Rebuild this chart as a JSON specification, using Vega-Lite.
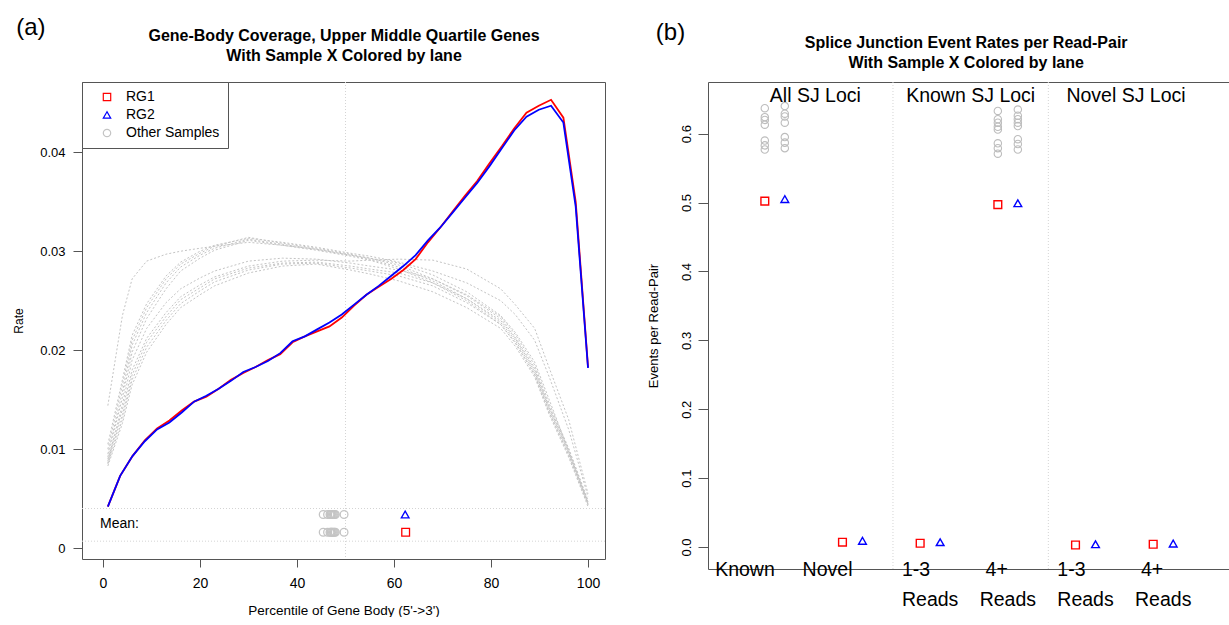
{
  "$schema": "https://vega.github.io/schema/vega-lite/v6.json",
  "padding": {"left": 12, "top": 15, "right": 0, "bottom": 0},
  "spacing": 40,
  "config": {
    "font": "Liberation Sans",
    "view": {"stroke": "#555"},
    "axis": {"grid": false, "domain": false, "labelColor": "#000", "titleColor": "#000", "tickColor": "#555", "titleFontWeight": "normal", "labelFont": "Liberation Sans", "titleFont": "Liberation Sans"}
  },
  "datasets": {
    "cov": [
      {"s":"F","g":"Other Samples","x":1,"y":0.0144},{"s":"F","g":"Other Samples","x":4,"y":0.0235},{"s":"F","g":"Other Samples","x":6,"y":0.0272},{"s":"F","g":"Other Samples","x":9,"y":0.0290},{"s":"F","g":"Other Samples","x":13,"y":0.0297},{"s":"F","g":"Other Samples","x":16,"y":0.0300},{"s":"F","g":"Other Samples","x":20,"y":0.0303},{"s":"F","g":"Other Samples","x":23,"y":0.0305},{"s":"F","g":"Other Samples","x":30,"y":0.0309},{"s":"F","g":"Other Samples","x":37,"y":0.0306},{"s":"F","g":"Other Samples","x":44,"y":0.0302},{"s":"F","g":"Other Samples","x":51,"y":0.0296},{"s":"F","g":"Other Samples","x":55,"y":0.0293},{"s":"F","g":"Other Samples","x":61,"y":0.0288},{"s":"F","g":"Other Samples","x":68,"y":0.0276},{"s":"F","g":"Other Samples","x":75,"y":0.0259},{"s":"F","g":"Other Samples","x":82,"y":0.0235},{"s":"F","g":"Other Samples","x":85,"y":0.0218},{"s":"F","g":"Other Samples","x":89,"y":0.0188},{"s":"F","g":"Other Samples","x":92,"y":0.0150},{"s":"F","g":"Other Samples","x":96,"y":0.0098},{"s":"F","g":"Other Samples","x":100,"y":0.0046},
      {"s":"A1","g":"Other Samples","x":1,"y":0.0105},{"s":"A1","g":"Other Samples","x":4,"y":0.0170},{"s":"A1","g":"Other Samples","x":6,"y":0.0215},{"s":"A1","g":"Other Samples","x":9,"y":0.0247},{"s":"A1","g":"Other Samples","x":13,"y":0.0275},{"s":"A1","g":"Other Samples","x":16,"y":0.0289},{"s":"A1","g":"Other Samples","x":20,"y":0.0300},{"s":"A1","g":"Other Samples","x":23,"y":0.0306},{"s":"A1","g":"Other Samples","x":30,"y":0.0313},{"s":"A1","g":"Other Samples","x":37,"y":0.0309},{"s":"A1","g":"Other Samples","x":44,"y":0.0304},{"s":"A1","g":"Other Samples","x":51,"y":0.0298},{"s":"A1","g":"Other Samples","x":55,"y":0.0295},{"s":"A1","g":"Other Samples","x":61,"y":0.0289},{"s":"A1","g":"Other Samples","x":68,"y":0.0280},{"s":"A1","g":"Other Samples","x":75,"y":0.0268},{"s":"A1","g":"Other Samples","x":82,"y":0.0250},{"s":"A1","g":"Other Samples","x":85,"y":0.0236},{"s":"A1","g":"Other Samples","x":89,"y":0.0210},{"s":"A1","g":"Other Samples","x":92,"y":0.0173},{"s":"A1","g":"Other Samples","x":96,"y":0.0120},{"s":"A1","g":"Other Samples","x":100,"y":0.0052},
      {"s":"A2","g":"Other Samples","x":1,"y":0.0100},{"s":"A2","g":"Other Samples","x":4,"y":0.0165},{"s":"A2","g":"Other Samples","x":6,"y":0.0210},{"s":"A2","g":"Other Samples","x":9,"y":0.0243},{"s":"A2","g":"Other Samples","x":13,"y":0.0272},{"s":"A2","g":"Other Samples","x":16,"y":0.0287},{"s":"A2","g":"Other Samples","x":20,"y":0.0298},{"s":"A2","g":"Other Samples","x":23,"y":0.0305},{"s":"A2","g":"Other Samples","x":30,"y":0.0314},{"s":"A2","g":"Other Samples","x":37,"y":0.0308},{"s":"A2","g":"Other Samples","x":44,"y":0.0303},{"s":"A2","g":"Other Samples","x":51,"y":0.0297},{"s":"A2","g":"Other Samples","x":55,"y":0.0293},{"s":"A2","g":"Other Samples","x":61,"y":0.0286},{"s":"A2","g":"Other Samples","x":68,"y":0.0272},{"s":"A2","g":"Other Samples","x":75,"y":0.0255},{"s":"A2","g":"Other Samples","x":82,"y":0.0232},{"s":"A2","g":"Other Samples","x":85,"y":0.0213},{"s":"A2","g":"Other Samples","x":89,"y":0.0182},{"s":"A2","g":"Other Samples","x":92,"y":0.0143},{"s":"A2","g":"Other Samples","x":96,"y":0.0100},{"s":"A2","g":"Other Samples","x":100,"y":0.0047},
      {"s":"A3","g":"Other Samples","x":1,"y":0.0095},{"s":"A3","g":"Other Samples","x":4,"y":0.0158},{"s":"A3","g":"Other Samples","x":6,"y":0.0205},{"s":"A3","g":"Other Samples","x":9,"y":0.0238},{"s":"A3","g":"Other Samples","x":13,"y":0.0268},{"s":"A3","g":"Other Samples","x":16,"y":0.0284},{"s":"A3","g":"Other Samples","x":20,"y":0.0296},{"s":"A3","g":"Other Samples","x":23,"y":0.0303},{"s":"A3","g":"Other Samples","x":30,"y":0.0312},{"s":"A3","g":"Other Samples","x":37,"y":0.0307},{"s":"A3","g":"Other Samples","x":44,"y":0.0302},{"s":"A3","g":"Other Samples","x":51,"y":0.0296},{"s":"A3","g":"Other Samples","x":55,"y":0.0292},{"s":"A3","g":"Other Samples","x":61,"y":0.0284},{"s":"A3","g":"Other Samples","x":68,"y":0.0270},{"s":"A3","g":"Other Samples","x":75,"y":0.0252},{"s":"A3","g":"Other Samples","x":82,"y":0.0228},{"s":"A3","g":"Other Samples","x":85,"y":0.0210},{"s":"A3","g":"Other Samples","x":89,"y":0.0178},{"s":"A3","g":"Other Samples","x":92,"y":0.0140},{"s":"A3","g":"Other Samples","x":96,"y":0.0097},{"s":"A3","g":"Other Samples","x":100,"y":0.0045},
      {"s":"A4","g":"Other Samples","x":1,"y":0.0092},{"s":"A4","g":"Other Samples","x":4,"y":0.0152},{"s":"A4","g":"Other Samples","x":6,"y":0.0198},{"s":"A4","g":"Other Samples","x":9,"y":0.0232},{"s":"A4","g":"Other Samples","x":13,"y":0.0262},{"s":"A4","g":"Other Samples","x":16,"y":0.0280},{"s":"A4","g":"Other Samples","x":20,"y":0.0293},{"s":"A4","g":"Other Samples","x":23,"y":0.0301},{"s":"A4","g":"Other Samples","x":30,"y":0.0311},{"s":"A4","g":"Other Samples","x":37,"y":0.0306},{"s":"A4","g":"Other Samples","x":44,"y":0.0301},{"s":"A4","g":"Other Samples","x":51,"y":0.0295},{"s":"A4","g":"Other Samples","x":55,"y":0.0291},{"s":"A4","g":"Other Samples","x":61,"y":0.0282},{"s":"A4","g":"Other Samples","x":68,"y":0.0268},{"s":"A4","g":"Other Samples","x":75,"y":0.0250},{"s":"A4","g":"Other Samples","x":82,"y":0.0226},{"s":"A4","g":"Other Samples","x":85,"y":0.0208},{"s":"A4","g":"Other Samples","x":89,"y":0.0176},{"s":"A4","g":"Other Samples","x":92,"y":0.0138},{"s":"A4","g":"Other Samples","x":96,"y":0.0095},{"s":"A4","g":"Other Samples","x":100,"y":0.0044},
      {"s":"B1","g":"Other Samples","x":1,"y":0.0090},{"s":"B1","g":"Other Samples","x":4,"y":0.0140},{"s":"B1","g":"Other Samples","x":6,"y":0.0180},{"s":"B1","g":"Other Samples","x":9,"y":0.0212},{"s":"B1","g":"Other Samples","x":13,"y":0.0238},{"s":"B1","g":"Other Samples","x":16,"y":0.0254},{"s":"B1","g":"Other Samples","x":20,"y":0.0266},{"s":"B1","g":"Other Samples","x":23,"y":0.0274},{"s":"B1","g":"Other Samples","x":30,"y":0.0285},{"s":"B1","g":"Other Samples","x":37,"y":0.0290},{"s":"B1","g":"Other Samples","x":44,"y":0.0291},{"s":"B1","g":"Other Samples","x":51,"y":0.0290},{"s":"B1","g":"Other Samples","x":55,"y":0.0291},{"s":"B1","g":"Other Samples","x":61,"y":0.0292},{"s":"B1","g":"Other Samples","x":68,"y":0.0291},{"s":"B1","g":"Other Samples","x":75,"y":0.0282},{"s":"B1","g":"Other Samples","x":82,"y":0.0262},{"s":"B1","g":"Other Samples","x":85,"y":0.0246},{"s":"B1","g":"Other Samples","x":89,"y":0.0222},{"s":"B1","g":"Other Samples","x":92,"y":0.0182},{"s":"B1","g":"Other Samples","x":96,"y":0.0130},{"s":"B1","g":"Other Samples","x":100,"y":0.0055},
      {"s":"B2","g":"Other Samples","x":1,"y":0.0088},{"s":"B2","g":"Other Samples","x":4,"y":0.0135},{"s":"B2","g":"Other Samples","x":6,"y":0.0175},{"s":"B2","g":"Other Samples","x":9,"y":0.0208},{"s":"B2","g":"Other Samples","x":13,"y":0.0234},{"s":"B2","g":"Other Samples","x":16,"y":0.0251},{"s":"B2","g":"Other Samples","x":20,"y":0.0263},{"s":"B2","g":"Other Samples","x":23,"y":0.0272},{"s":"B2","g":"Other Samples","x":30,"y":0.0283},{"s":"B2","g":"Other Samples","x":37,"y":0.0288},{"s":"B2","g":"Other Samples","x":44,"y":0.0289},{"s":"B2","g":"Other Samples","x":51,"y":0.0285},{"s":"B2","g":"Other Samples","x":55,"y":0.0282},{"s":"B2","g":"Other Samples","x":61,"y":0.0278},{"s":"B2","g":"Other Samples","x":68,"y":0.0268},{"s":"B2","g":"Other Samples","x":75,"y":0.0252},{"s":"B2","g":"Other Samples","x":82,"y":0.0230},{"s":"B2","g":"Other Samples","x":85,"y":0.0212},{"s":"B2","g":"Other Samples","x":89,"y":0.0180},{"s":"B2","g":"Other Samples","x":92,"y":0.0142},{"s":"B2","g":"Other Samples","x":96,"y":0.0098},{"s":"B2","g":"Other Samples","x":100,"y":0.0046},
      {"s":"B3","g":"Other Samples","x":1,"y":0.0085},{"s":"B3","g":"Other Samples","x":4,"y":0.0130},{"s":"B3","g":"Other Samples","x":6,"y":0.0170},{"s":"B3","g":"Other Samples","x":9,"y":0.0203},{"s":"B3","g":"Other Samples","x":13,"y":0.0230},{"s":"B3","g":"Other Samples","x":16,"y":0.0247},{"s":"B3","g":"Other Samples","x":20,"y":0.0260},{"s":"B3","g":"Other Samples","x":23,"y":0.0269},{"s":"B3","g":"Other Samples","x":30,"y":0.0281},{"s":"B3","g":"Other Samples","x":37,"y":0.0287},{"s":"B3","g":"Other Samples","x":44,"y":0.0288},{"s":"B3","g":"Other Samples","x":51,"y":0.0283},{"s":"B3","g":"Other Samples","x":55,"y":0.0280},{"s":"B3","g":"Other Samples","x":61,"y":0.0275},{"s":"B3","g":"Other Samples","x":68,"y":0.0265},{"s":"B3","g":"Other Samples","x":75,"y":0.0248},{"s":"B3","g":"Other Samples","x":82,"y":0.0226},{"s":"B3","g":"Other Samples","x":85,"y":0.0207},{"s":"B3","g":"Other Samples","x":89,"y":0.0175},{"s":"B3","g":"Other Samples","x":92,"y":0.0137},{"s":"B3","g":"Other Samples","x":96,"y":0.0094},{"s":"B3","g":"Other Samples","x":100,"y":0.0044},
      {"s":"B4","g":"Other Samples","x":1,"y":0.0083},{"s":"B4","g":"Other Samples","x":4,"y":0.0126},{"s":"B4","g":"Other Samples","x":6,"y":0.0165},{"s":"B4","g":"Other Samples","x":9,"y":0.0198},{"s":"B4","g":"Other Samples","x":13,"y":0.0226},{"s":"B4","g":"Other Samples","x":16,"y":0.0243},{"s":"B4","g":"Other Samples","x":20,"y":0.0256},{"s":"B4","g":"Other Samples","x":23,"y":0.0265},{"s":"B4","g":"Other Samples","x":30,"y":0.0278},{"s":"B4","g":"Other Samples","x":37,"y":0.0285},{"s":"B4","g":"Other Samples","x":44,"y":0.0287},{"s":"B4","g":"Other Samples","x":51,"y":0.0281},{"s":"B4","g":"Other Samples","x":55,"y":0.0277},{"s":"B4","g":"Other Samples","x":61,"y":0.0270},{"s":"B4","g":"Other Samples","x":68,"y":0.0259},{"s":"B4","g":"Other Samples","x":75,"y":0.0243},{"s":"B4","g":"Other Samples","x":82,"y":0.0222},{"s":"B4","g":"Other Samples","x":85,"y":0.0204},{"s":"B4","g":"Other Samples","x":89,"y":0.0173},{"s":"B4","g":"Other Samples","x":92,"y":0.0135},{"s":"B4","g":"Other Samples","x":96,"y":0.0092},{"s":"B4","g":"Other Samples","x":100,"y":0.0042},
      {"s":"B5","g":"Other Samples","x":1,"y":0.0086},{"s":"B5","g":"Other Samples","x":4,"y":0.0145},{"s":"B5","g":"Other Samples","x":6,"y":0.0190},{"s":"B5","g":"Other Samples","x":9,"y":0.0222},{"s":"B5","g":"Other Samples","x":13,"y":0.0248},{"s":"B5","g":"Other Samples","x":16,"y":0.0262},{"s":"B5","g":"Other Samples","x":20,"y":0.0273},{"s":"B5","g":"Other Samples","x":23,"y":0.0280},{"s":"B5","g":"Other Samples","x":30,"y":0.0290},{"s":"B5","g":"Other Samples","x":37,"y":0.0293},{"s":"B5","g":"Other Samples","x":44,"y":0.0292},{"s":"B5","g":"Other Samples","x":51,"y":0.0288},{"s":"B5","g":"Other Samples","x":55,"y":0.0285},{"s":"B5","g":"Other Samples","x":61,"y":0.0281},{"s":"B5","g":"Other Samples","x":68,"y":0.0272},{"s":"B5","g":"Other Samples","x":75,"y":0.0256},{"s":"B5","g":"Other Samples","x":82,"y":0.0234},{"s":"B5","g":"Other Samples","x":85,"y":0.0216},{"s":"B5","g":"Other Samples","x":89,"y":0.0185},{"s":"B5","g":"Other Samples","x":92,"y":0.0146},{"s":"B5","g":"Other Samples","x":96,"y":0.0101},{"s":"B5","g":"Other Samples","x":100,"y":0.0048},
      {"s":"RG1","g":"RG1","x":1,"y":0.0042},{"s":"RG1","g":"RG1","x":3.54,"y":0.0073},{"s":"RG1","g":"RG1","x":6.08,"y":0.0093},{"s":"RG1","g":"RG1","x":8.62,"y":0.0109},{"s":"RG1","g":"RG1","x":11.15,"y":0.0121},{"s":"RG1","g":"RG1","x":13.69,"y":0.0129},{"s":"RG1","g":"RG1","x":16.23,"y":0.0139},{"s":"RG1","g":"RG1","x":18.77,"y":0.0148},{"s":"RG1","g":"RG1","x":21.31,"y":0.0153},{"s":"RG1","g":"RG1","x":23.85,"y":0.0161},{"s":"RG1","g":"RG1","x":26.38,"y":0.0170},{"s":"RG1","g":"RG1","x":28.92,"y":0.0177},{"s":"RG1","g":"RG1","x":31.46,"y":0.0183},{"s":"RG1","g":"RG1","x":34,"y":0.0190},{"s":"RG1","g":"RG1","x":36.54,"y":0.0196},{"s":"RG1","g":"RG1","x":39.08,"y":0.0208},{"s":"RG1","g":"RG1","x":41.62,"y":0.0214},{"s":"RG1","g":"RG1","x":44.15,"y":0.0219},{"s":"RG1","g":"RG1","x":46.69,"y":0.0224},{"s":"RG1","g":"RG1","x":49.23,"y":0.0233},{"s":"RG1","g":"RG1","x":51.77,"y":0.0245},{"s":"RG1","g":"RG1","x":54.31,"y":0.0256},{"s":"RG1","g":"RG1","x":56.85,"y":0.0264},{"s":"RG1","g":"RG1","x":59.38,"y":0.0272},{"s":"RG1","g":"RG1","x":61.92,"y":0.0281},{"s":"RG1","g":"RG1","x":64.46,"y":0.0292},{"s":"RG1","g":"RG1","x":67,"y":0.0309},{"s":"RG1","g":"RG1","x":69.54,"y":0.0324},{"s":"RG1","g":"RG1","x":72.08,"y":0.0340},{"s":"RG1","g":"RG1","x":74.62,"y":0.0356},{"s":"RG1","g":"RG1","x":77.15,"y":0.0371},{"s":"RG1","g":"RG1","x":79.69,"y":0.0389},{"s":"RG1","g":"RG1","x":82.23,"y":0.0406},{"s":"RG1","g":"RG1","x":84.77,"y":0.0424},{"s":"RG1","g":"RG1","x":87.31,"y":0.0440},{"s":"RG1","g":"RG1","x":89.85,"y":0.0447},{"s":"RG1","g":"RG1","x":92.38,"y":0.0453},{"s":"RG1","g":"RG1","x":94.92,"y":0.0435},{"s":"RG1","g":"RG1","x":97.46,"y":0.0350},{"s":"RG1","g":"RG1","x":100,"y":0.0183},
      {"s":"RG2","g":"RG2","x":1,"y":0.0042},{"s":"RG2","g":"RG2","x":3.54,"y":0.0073},{"s":"RG2","g":"RG2","x":6.08,"y":0.0093},{"s":"RG2","g":"RG2","x":8.62,"y":0.0108},{"s":"RG2","g":"RG2","x":11.15,"y":0.0120},{"s":"RG2","g":"RG2","x":13.69,"y":0.0127},{"s":"RG2","g":"RG2","x":16.23,"y":0.0137},{"s":"RG2","g":"RG2","x":18.77,"y":0.0148},{"s":"RG2","g":"RG2","x":21.31,"y":0.0154},{"s":"RG2","g":"RG2","x":23.85,"y":0.0161},{"s":"RG2","g":"RG2","x":26.38,"y":0.0169},{"s":"RG2","g":"RG2","x":28.92,"y":0.0178},{"s":"RG2","g":"RG2","x":31.46,"y":0.0183},{"s":"RG2","g":"RG2","x":34,"y":0.0189},{"s":"RG2","g":"RG2","x":36.54,"y":0.0197},{"s":"RG2","g":"RG2","x":39.08,"y":0.0209},{"s":"RG2","g":"RG2","x":41.62,"y":0.0214},{"s":"RG2","g":"RG2","x":44.15,"y":0.0221},{"s":"RG2","g":"RG2","x":46.69,"y":0.0228},{"s":"RG2","g":"RG2","x":49.23,"y":0.0236},{"s":"RG2","g":"RG2","x":51.77,"y":0.0246},{"s":"RG2","g":"RG2","x":54.31,"y":0.0256},{"s":"RG2","g":"RG2","x":56.85,"y":0.0265},{"s":"RG2","g":"RG2","x":59.38,"y":0.0275},{"s":"RG2","g":"RG2","x":61.92,"y":0.0285},{"s":"RG2","g":"RG2","x":64.46,"y":0.0296},{"s":"RG2","g":"RG2","x":67,"y":0.0311},{"s":"RG2","g":"RG2","x":69.54,"y":0.0324},{"s":"RG2","g":"RG2","x":72.08,"y":0.0339},{"s":"RG2","g":"RG2","x":74.62,"y":0.0354},{"s":"RG2","g":"RG2","x":77.15,"y":0.0369},{"s":"RG2","g":"RG2","x":79.69,"y":0.0386},{"s":"RG2","g":"RG2","x":82.23,"y":0.0404},{"s":"RG2","g":"RG2","x":84.77,"y":0.0422},{"s":"RG2","g":"RG2","x":87.31,"y":0.0436},{"s":"RG2","g":"RG2","x":89.85,"y":0.0443},{"s":"RG2","g":"RG2","x":92.38,"y":0.0447},{"s":"RG2","g":"RG2","x":94.92,"y":0.0430},{"s":"RG2","g":"RG2","x":97.46,"y":0.0345},{"s":"RG2","g":"RG2","x":100,"y":0.0182}
    ],
    "means": [
      {"s":"F","g":"Other Samples","m":47.1},{"s":"A1","g":"Other Samples","m":47.5},{"s":"A2","g":"Other Samples","m":46.8},{"s":"A3","g":"Other Samples","m":47.3},{"s":"A4","g":"Other Samples","m":49.7},
      {"s":"B1","g":"Other Samples","m":45.4},{"s":"B2","g":"Other Samples","m":46.3},{"s":"B3","g":"Other Samples","m":47.7},{"s":"B4","g":"Other Samples","m":47.0},{"s":"B5","g":"Other Samples","m":47.9},
      {"s":"RG1","g":"RG1","m":62.4},{"s":"RG2","g":"RG2","m":62.3}
    ],
    "sj": [
      {"cat":"Known","lane":"RG1","g":"Other Samples","v":0.637},{"cat":"Known","lane":"RG1","g":"Other Samples","v":0.624},{"cat":"Known","lane":"RG1","g":"Other Samples","v":0.620},{"cat":"Known","lane":"RG1","g":"Other Samples","v":0.613},{"cat":"Known","lane":"RG1","g":"Other Samples","v":0.590},{"cat":"Known","lane":"RG1","g":"Other Samples","v":0.583},{"cat":"Known","lane":"RG1","g":"Other Samples","v":0.577},
      {"cat":"Known","lane":"RG2","g":"Other Samples","v":0.640},{"cat":"Known","lane":"RG2","g":"Other Samples","v":0.629},{"cat":"Known","lane":"RG2","g":"Other Samples","v":0.625},{"cat":"Known","lane":"RG2","g":"Other Samples","v":0.616},{"cat":"Known","lane":"RG2","g":"Other Samples","v":0.595},{"cat":"Known","lane":"RG2","g":"Other Samples","v":0.587},{"cat":"Known","lane":"RG2","g":"Other Samples","v":0.579},
      {"cat":"Known 4+","lane":"RG1","g":"Other Samples","v":0.633},{"cat":"Known 4+","lane":"RG1","g":"Other Samples","v":0.621},{"cat":"Known 4+","lane":"RG1","g":"Other Samples","v":0.616},{"cat":"Known 4+","lane":"RG1","g":"Other Samples","v":0.610},{"cat":"Known 4+","lane":"RG1","g":"Other Samples","v":0.606},{"cat":"Known 4+","lane":"RG1","g":"Other Samples","v":0.586},{"cat":"Known 4+","lane":"RG1","g":"Other Samples","v":0.579},{"cat":"Known 4+","lane":"RG1","g":"Other Samples","v":0.571},
      {"cat":"Known 4+","lane":"RG2","g":"Other Samples","v":0.635},{"cat":"Known 4+","lane":"RG2","g":"Other Samples","v":0.626},{"cat":"Known 4+","lane":"RG2","g":"Other Samples","v":0.621},{"cat":"Known 4+","lane":"RG2","g":"Other Samples","v":0.616},{"cat":"Known 4+","lane":"RG2","g":"Other Samples","v":0.611},{"cat":"Known 4+","lane":"RG2","g":"Other Samples","v":0.592},{"cat":"Known 4+","lane":"RG2","g":"Other Samples","v":0.585},{"cat":"Known 4+","lane":"RG2","g":"Other Samples","v":0.577},
      {"cat":"Known","lane":"RG1","g":"RG1","v":0.502},{"cat":"Known","lane":"RG2","g":"RG2","v":0.505},
      {"cat":"Novel","lane":"RG1","g":"RG1","v":0.007},{"cat":"Novel","lane":"RG2","g":"RG2","v":0.009},
      {"cat":"Known 1-3","lane":"RG1","g":"RG1","v":0.0055},{"cat":"Known 1-3","lane":"RG2","g":"RG2","v":0.007},
      {"cat":"Known 4+","lane":"RG1","g":"RG1","v":0.497},{"cat":"Known 4+","lane":"RG2","g":"RG2","v":0.499},
      {"cat":"Novel 1-3","lane":"RG1","g":"RG1","v":0.003},{"cat":"Novel 1-3","lane":"RG2","g":"RG2","v":0.004},
      {"cat":"Novel 4+","lane":"RG1","g":"RG1","v":0.004},{"cat":"Novel 4+","lane":"RG2","g":"RG2","v":0.005}
    ],
    "sjlabels": [
      {"cat":"Known","label":"All SJ Loci"},{"cat":"Known 1-3","label":"Known SJ Loci"},{"cat":"Novel 1-3","label":"Novel SJ Loci"}
    ],
    "reads": [
      {"cat":"Known 1-3","label":"Reads"},{"cat":"Known 4+","label":"Reads"},{"cat":"Novel 1-3","label":"Reads"},{"cat":"Novel 4+","label":"Reads"}
    ]
  },
  "hconcat": [
    {
      "width": 523,
      "height": 477,
      "layer": [
        {
          "data": {"values": [{"x": 50}]},
          "mark": {"type": "rule", "color": "#d4d4d4", "strokeDash": [1, 2], "strokeWidth": 1},
          "encoding": {"x": {"field": "x", "type": "quantitative"}}
        },
        {
          "data": {"values": [{"y": 0.0040}, {"y": 0.0007}]},
          "mark": {"type": "rule", "color": "#d4d4d4", "strokeDash": [1, 2], "strokeWidth": 1},
          "encoding": {"y": {"field": "y", "type": "quantitative"}}
        },
        {
          "data": {"name": "cov"},
          "transform": [{"filter": "datum.g === 'Other Samples'"}],
          "mark": {"type": "line", "strokeDash": [2, 2], "strokeWidth": 1},
          "encoding": {
            "x": {"field": "x", "type": "quantitative", "scale": {"domain": [-4.33, 103.5], "nice": false, "zero": false}},
            "y": {"field": "y", "type": "quantitative", "scale": {"domain": [-0.0011, 0.0471], "nice": false, "zero": false}},
            "detail": {"field": "s"},
            "color": {"field": "g", "type": "nominal",
              "scale": {"domain": ["RG1", "RG2", "Other Samples"], "range": ["#ff0000", "#0000ff", "#c4c4c4"]},
              "legend": {"title": null, "orient": "top-left", "offset": 0, "padding": 8, "strokeColor": "#555", "fillColor": "#ffffff",
                "labelFontSize": 14, "labelFont": "Liberation Sans", "labelColor": "#000", "labelOffset": 12, "rowPadding": 4,
                "symbolSize": 55, "symbolStrokeWidth": 1.2, "symbolOffset": 10}}
          }
        },
        {
          "data": {"name": "cov"},
          "transform": [{"filter": "datum.g !== 'Other Samples'"}],
          "mark": {"type": "line", "strokeWidth": 1.8},
          "encoding": {
            "x": {"field": "x", "type": "quantitative", "scale": {"domain": [-4.33, 103.5], "nice": false, "zero": false},
              "axis": {"orient": "bottom", "values": [0, 20, 40, 60, 80, 100], "tickSize": 8, "labelFontSize": 14, "labelPadding": 9,
                "title": "Percentile of Gene Body (5'->3')", "titleFontSize": 13.5, "titlePadding": 13}},
            "y": {"field": "y", "type": "quantitative", "scale": {"domain": [-0.0011, 0.0471], "nice": false, "zero": false},
              "axis": {"orient": "left", "values": [0, 0.01, 0.02, 0.03, 0.04], "labelExpr": "datum.value === 0 ? '0' : format(datum.value, '.2f')",
                "tickSize": 9, "labelPadding": 8, "labelFontSize": 13, "title": "Rate", "titleFontSize": 12, "titlePadding": 14}},
            "detail": {"field": "s"},
            "color": {"field": "g", "type": "nominal", "legend": null}
          }
        },
        {
          "data": {"values": [{"label": "Mean:"}]},
          "mark": {"type": "text", "align": "left", "baseline": "middle", "fontSize": 14, "font": "Liberation Sans", "color": "#000"},
          "encoding": {
            "x": {"datum": -0.6, "type": "quantitative"},
            "y": {"datum": 0.0024, "type": "quantitative"},
            "text": {"field": "label"}
          }
        },
        {
          "data": {"values": [{"label": "(a)"}]},
          "mark": {"type": "text", "align": "left", "baseline": "middle", "fontSize": 24, "font": "Liberation Sans", "color": "#000"},
          "encoding": {
            "x": {"datum": -17.9, "type": "quantitative"},
            "y": {"datum": 0.0526, "type": "quantitative"},
            "text": {"field": "label"}
          }
        },
        {
          "data": {"values": [{"label": "heading"}]},
          "mark": {"type": "text", "align": "center", "baseline": "middle", "fontSize": 16, "fontWeight": "bold", "font": "Liberation Sans", "color": "#000", "lineHeight": 20},
          "encoding": {
            "x": {"datum": 49.7, "type": "quantitative"},
            "y": {"datum": 0.0517, "type": "quantitative"},
            "text": {"value": ["Gene-Body Coverage, Upper Middle Quartile Genes", "With Sample X Colored by lane"]}
          }
        },
        {
          "data": {"name": "means"},
          "transform": [{"filter": "datum.g !== 'RG1'"}],
          "mark": {"type": "point", "filled": false, "size": 60, "strokeWidth": 1.3, "opacity": 1},
          "encoding": {
            "x": {"field": "m", "type": "quantitative"},
            "y": {"datum": 0.0034, "type": "quantitative"},
            "color": {"field": "g", "type": "nominal", "legend": null},
            "shape": {"field": "g", "type": "nominal", "scale": {"domain": ["RG1", "RG2", "Other Samples"], "range": ["square", "triangle-up", "circle"]}, "legend": null}
          }
        },
        {
          "data": {"name": "means"},
          "transform": [{"filter": "datum.g !== 'RG2'"}],
          "mark": {"type": "point", "filled": false, "size": 60, "strokeWidth": 1.3, "opacity": 1},
          "encoding": {
            "x": {"field": "m", "type": "quantitative"},
            "y": {"datum": 0.0016, "type": "quantitative"},
            "color": {"field": "g", "type": "nominal", "legend": null},
            "shape": {"field": "g", "type": "nominal", "scale": {"domain": ["RG1", "RG2", "Other Samples"], "range": ["square", "triangle-up", "circle"]}, "legend": null}
          }
        }
      ]
    },
    {
      "width": 522,
      "height": 487,
      "layer": [
        {
          "data": {"values": [{"cat": "Novel"}, {"cat": "Known 4+"}]},
          "mark": {"type": "rule", "color": "#d4d4d4", "strokeDash": [1, 2], "strokeWidth": 1, "xOffset": 40.5},
          "encoding": {
            "x": {"field": "cat", "type": "nominal", "scale": {"domain": ["Known", "Novel", "Known 1-3", "Known 4+", "Novel 1-3", "Novel 4+"], "padding": 0.72}}
          }
        },
        {
          "data": {"name": "sj"},
          "transform": [{"filter": "datum.g === 'Other Samples' && datum.lane === 'RG1'"}],
          "mark": {"type": "point", "filled": false, "size": 55, "strokeWidth": 1.1, "opacity": 1, "color": "#bdbdbd", "shape": "circle", "xOffset": -10},
          "encoding": {
            "x": {"field": "cat", "type": "nominal", "scale": {"domain": ["Known", "Novel", "Known 1-3", "Known 4+", "Novel 1-3", "Novel 4+"], "padding": 0.72}},
            "y": {"field": "v", "type": "quantitative", "scale": {"domain": [-0.0319, 0.675], "nice": false, "zero": false}}
          }
        },
        {
          "data": {"name": "sj"},
          "transform": [{"filter": "datum.g === 'Other Samples' && datum.lane === 'RG2'"}],
          "mark": {"type": "point", "filled": false, "size": 55, "strokeWidth": 1.1, "opacity": 1, "color": "#bdbdbd", "shape": "circle", "xOffset": 10},
          "encoding": {
            "x": {"field": "cat", "type": "nominal", "scale": {"domain": ["Known", "Novel", "Known 1-3", "Known 4+", "Novel 1-3", "Novel 4+"], "padding": 0.72}},
            "y": {"field": "v", "type": "quantitative", "scale": {"domain": [-0.0319, 0.675], "nice": false, "zero": false}}
          }
        },
        {
          "data": {"name": "sj"},
          "transform": [{"filter": "datum.g === 'RG1'"}],
          "mark": {"type": "point", "filled": false, "size": 60, "strokeWidth": 1.4, "opacity": 1, "color": "#ff0000", "shape": "square", "xOffset": -10},
          "encoding": {
            "x": {"field": "cat", "type": "nominal", "scale": {"domain": ["Known", "Novel", "Known 1-3", "Known 4+", "Novel 1-3", "Novel 4+"], "padding": 0.72},
              "axis": {"orient": "bottom", "ticks": false, "labelPadding": 0, "labelFontSize": 19.5, "labelAngle": 0, "labelOverlap": false,
                "labelExpr": "datum.value === 'Known' ? 'Known' : datum.value === 'Novel' ? 'Novel' : indexof(datum.value, '1-3') >= 0 ? '1-3' : '4+'",
                "title": null}},
            "y": {"field": "v", "type": "quantitative", "scale": {"domain": [-0.0319, 0.675], "nice": false, "zero": false},
              "axis": {"orient": "left", "values": [0, 0.1, 0.2, 0.3, 0.4, 0.5, 0.6], "format": ".1f", "labelAngle": 270, "labelAlign": "center", "labelBaseline": "bottom",
                "labelFontSize": 13, "tickSize": 10, "labelPadding": 5, "title": "Events per Read-Pair", "titleFontSize": 13, "titlePadding": 20}}
          }
        },
        {
          "data": {"name": "sj"},
          "transform": [{"filter": "datum.g === 'RG2'"}],
          "mark": {"type": "point", "filled": false, "size": 60, "strokeWidth": 1.4, "opacity": 1, "color": "#0000ff", "shape": "triangle-up", "xOffset": 10},
          "encoding": {
            "x": {"field": "cat", "type": "nominal", "scale": {"domain": ["Known", "Novel", "Known 1-3", "Known 4+", "Novel 1-3", "Novel 4+"], "padding": 0.72}},
            "y": {"field": "v", "type": "quantitative", "scale": {"domain": [-0.0319, 0.675], "nice": false, "zero": false}}
          }
        },
        {
          "data": {"name": "sjlabels"},
          "mark": {"type": "text", "align": "center", "baseline": "middle", "fontSize": 19.5, "font": "Liberation Sans", "color": "#000", "dx": 40.5},
          "encoding": {
            "x": {"field": "cat", "type": "nominal", "scale": {"domain": ["Known", "Novel", "Known 1-3", "Known 4+", "Novel 1-3", "Novel 4+"], "padding": 0.72}},
            "y": {"datum": 0.6546, "type": "quantitative"},
            "text": {"field": "label"}
          }
        },
        {
          "data": {"name": "reads"},
          "mark": {"type": "text", "align": "center", "baseline": "middle", "fontSize": 19.5, "font": "Liberation Sans", "color": "#000"},
          "encoding": {
            "x": {"field": "cat", "type": "nominal", "scale": {"domain": ["Known", "Novel", "Known 1-3", "Known 4+", "Novel 1-3", "Novel 4+"], "padding": 0.72}},
            "y": {"datum": -0.0769, "type": "quantitative"},
            "text": {"field": "label"}
          }
        },
        {
          "data": {"values": [{"cat": "Known", "label": "(b)"}]},
          "mark": {"type": "text", "align": "left", "baseline": "middle", "fontSize": 24, "font": "Liberation Sans", "color": "#000", "dx": -119},
          "encoding": {
            "x": {"field": "cat", "type": "nominal", "scale": {"domain": ["Known", "Novel", "Known 1-3", "Known 4+", "Novel 1-3", "Novel 4+"], "padding": 0.72}},
            "y": {"datum": 0.746, "type": "quantitative"},
            "text": {"field": "label"}
          }
        },
        {
          "data": {"values": [{"cat": "Known 1-3", "label": "heading"}]},
          "mark": {"type": "text", "align": "center", "baseline": "middle", "fontSize": 16, "fontWeight": "bold", "font": "Liberation Sans", "color": "#000", "lineHeight": 20, "dx": 36},
          "encoding": {
            "x": {"field": "cat", "type": "nominal", "scale": {"domain": ["Known", "Novel", "Known 1-3", "Known 4+", "Novel 1-3", "Novel 4+"], "padding": 0.72}},
            "y": {"datum": 0.7315, "type": "quantitative"},
            "text": {"value": ["Splice Junction Event Rates per Read-Pair", "With Sample X Colored by lane"]}
          }
        }
      ]
    }
  ]
}
